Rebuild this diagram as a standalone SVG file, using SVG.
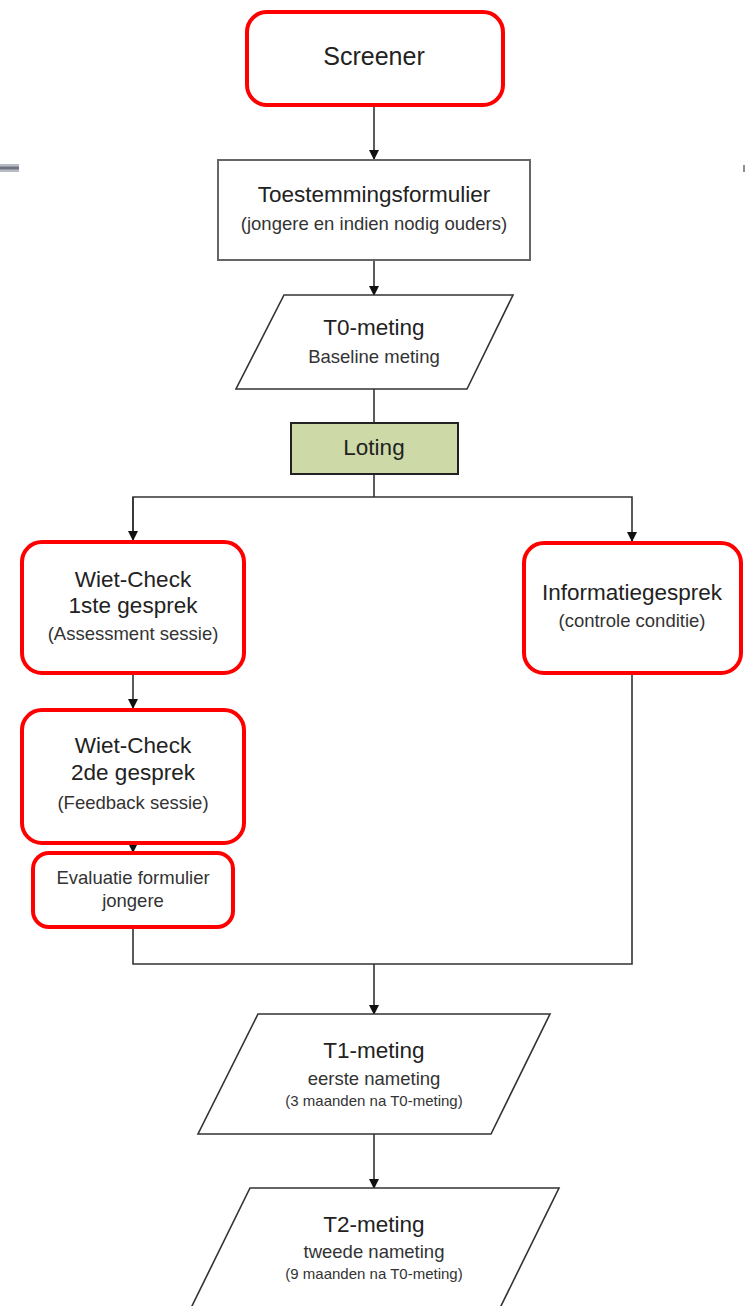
<svg xmlns="http://www.w3.org/2000/svg" width="745" height="1306" viewBox="0 0 745 1306">
<defs>
<marker id="arr" markerWidth="10" markerHeight="10" refX="9" refY="5" orient="auto" markerUnits="userSpaceOnUse">
<path d="M0,0 L10,5 L0,10 Z" fill="#111"/>
</marker>
<style>
text{font-family:"Liberation Sans",Arial,sans-serif;fill:#222;text-anchor:middle}
.t{font-size:22.5px}
.s{font-size:18.5px;fill:#333}
.xs{font-size:15px;fill:#333}
.red{fill:#fff;stroke:#ff0000;stroke-width:4}
.box{fill:#fff;stroke:#666;stroke-width:2}
.para{fill:#fff;stroke:#333;stroke-width:1.6}
.c{fill:none;stroke:#333;stroke-width:1.6}
</style>
</defs>
<rect width="745" height="1306" fill="#fff"/>
<g id="edge-marks">
<rect x="0" y="164" width="19" height="8" fill="#b8bcc4"/>
<rect x="0" y="166.5" width="19" height="3" fill="#707480"/>
<rect x="743" y="165" width="2" height="7" fill="#8a8e96"/>
</g>
<g id="connectors">
<line class="c" x1="374" y1="106" x2="374" y2="159" marker-end="url(#arr)"/>
<line class="c" x1="374" y1="261" x2="374" y2="295" marker-end="url(#arr)"/>
<line class="c" x1="374" y1="389" x2="374" y2="423"/>
<line class="c" x1="374" y1="474" x2="374" y2="497"/>
<polyline class="c" points="133,539 133,497 632,497 632,541" marker-end="url(#arr)"/>
<line class="c" x1="133" y1="497" x2="133" y2="540" marker-end="url(#arr)"/>
<line class="c" x1="133" y1="674" x2="133" y2="708" marker-end="url(#arr)"/>
<line class="c" x1="133" y1="845" x2="133" y2="852" marker-end="url(#arr)"/>
<polyline class="c" points="133,928 133,964 632,964 632,673"/>
<line class="c" x1="374" y1="964" x2="374" y2="1014" marker-end="url(#arr)"/>
<line class="c" x1="374" y1="1134" x2="374" y2="1188" marker-end="url(#arr)"/>
</g>
<g id="screener">
<rect class="red" x="247" y="12" width="256" height="93" rx="20"/>
<text class="t" x="374" y="65" style="font-size:25px">Screener</text>
</g>
<g id="toestemming">
<rect class="box" x="218" y="160" width="312" height="100"/>
<text class="t" x="374" y="202">Toestemmingsformulier</text>
<text class="s" x="374" y="230">(jongere en indien nodig ouders)</text>
</g>
<g id="t0">
<polygon class="para" points="284,295 513,295 467,389 236,389"/>
<text class="t" x="374" y="335">T0-meting</text>
<text class="s" x="374" y="363">Baseline meting</text>
</g>
<g id="loting">
<rect x="291" y="423" width="167" height="51" fill="#cddaa8" stroke="#222" stroke-width="2"/>
<text class="t" x="374" y="455">Loting</text>
</g>
<g id="wiet1">
<rect class="red" x="22" y="542" width="222" height="131" rx="20"/>
<text class="t" x="133" y="587">Wiet-Check</text>
<text class="t" x="133" y="613">1ste gesprek</text>
<text class="s" x="133" y="640">(Assessment sessie)</text>
</g>
<g id="informatie">
<rect class="red" x="524" y="543" width="217" height="130" rx="20"/>
<text class="t" x="632" y="600">Informatiegesprek</text>
<text class="s" x="632" y="627">(controle conditie)</text>
</g>
<g id="wiet2">
<rect class="red" x="22" y="710" width="222" height="133" rx="20"/>
<text class="t" x="133" y="753">Wiet-Check</text>
<text class="t" x="133" y="780">2de gesprek</text>
<text class="s" x="133" y="809">(Feedback sessie)</text>
</g>
<g id="evaluatie">
<rect class="red" x="33" y="853" width="200" height="74" rx="16"/>
<text class="s" x="133" y="884">Evaluatie formulier</text>
<text class="s" x="133" y="907">jongere</text>
</g>
<g id="t1">
<polygon class="para" points="258,1014 550,1014 491,1134 198,1134"/>
<text class="t" x="374" y="1058">T1-meting</text>
<text class="s" x="374" y="1085">eerste nameting</text>
<text class="xs" x="374" y="1106">(3 maanden na T0-meting)</text>
</g>
<g id="t2">
<polygon class="para" points="250,1188 559,1188 499,1310 190,1310"/>
<text class="t" x="374" y="1232">T2-meting</text>
<text class="s" x="374" y="1258">tweede nameting</text>
<text class="xs" x="374" y="1279">(9 maanden na T0-meting)</text>
</g>
</svg>
